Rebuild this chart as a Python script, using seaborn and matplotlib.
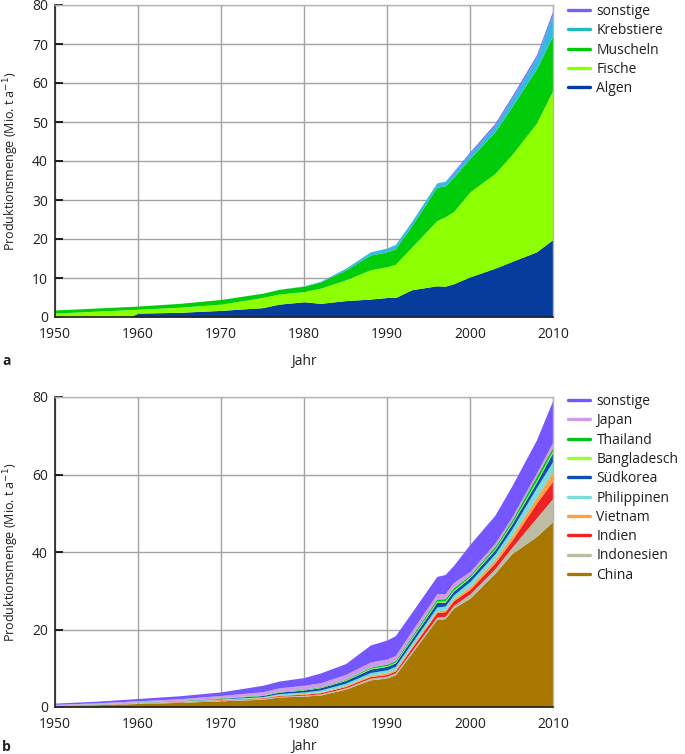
import matplotlib
matplotlib.use("Agg")
import matplotlib.pyplot as plt
from matplotlib.lines import Line2D
import seaborn as sns

sns.set_theme(style="whitegrid")
plt.rcParams["font.family"] = ["Open Sans", "DejaVu Sans"]

# --- panel a: Produktion nach Organismengruppe (Mio. t) ---
years_a = [1950, 1955, 1959, 1960, 1965, 1970, 1975, 1977, 1980, 1982, 1985, 1988,
           1990, 1991, 1993, 1996, 1997, 1998, 2000, 2003, 2005, 2008, 2010]
algen = [0, 0, 0, 1.0, 1.2, 1.7, 2.4, 3.3, 3.9, 3.5, 4.2, 4.6,
         5.0, 5.0, 7.0, 8.0, 7.9, 8.5, 10.3, 12.5, 14.2, 16.7, 19.9]
fische = [1.0, 1.5, 1.9, 1.0, 1.3, 1.6, 2.6, 2.6, 2.6, 3.9, 5.3, 7.5,
          7.9, 8.5, 11.0, 16.7, 17.8, 18.5, 21.8, 24.3, 27.3, 33.0, 38.3]
muscheln = [0.8, 0.8, 0.8, 0.8, 1.0, 1.2, 1.1, 1.2, 1.4, 1.6, 2.5, 3.8,
            3.8, 4.0, 5.5, 8.6, 7.9, 8.8, 8.6, 10.7, 12.3, 13.9, 14.1]
krebstiere = [0, 0, 0, 0, 0, 0, 0, 0, 0.1, 0.2, 0.5, 0.8,
              1.0, 1.1, 1.1, 1.1, 1.2, 1.2, 1.3, 1.7, 2.1, 3.0, 5.6]
sonstige_a = [0, 0, 0, 0, 0, 0, 0, 0, 0, 0, 0, 0,
              0, 0, 0, 0, 0, 0.3, 0.4, 0.5, 0.6, 0.6, 0.8]
labels_a = ["Algen", "Fische", "Muscheln", "Krebstiere", "sonstige"]
colors_a = ["#063d9c", "#8cff00", "#00cc0a", "#35b9dc", "#7b5cff"]
legend_colors_a = ["#063d9c", "#8cff00", "#00cc0a", "#1fb8c4", "#7b5cff"]

# --- panel b: Produktion nach Land (Mio. t) ---
years_b = [1950, 1955, 1960, 1965, 1970, 1975, 1977, 1980, 1982, 1985, 1988,
           1990, 1991, 1993, 1996, 1997, 1998, 2000, 2003, 2005, 2008, 2010]
china = [0.4, 0.6, 0.9, 1.2, 1.6, 2.0, 2.6, 2.8, 3.1, 4.6, 7.0,
         7.5, 8.3, 14.0, 22.6, 22.8, 25.5, 28.1, 34.5, 39.5, 44.0, 47.9]
indonesien = [0.05, 0.08, 0.1, 0.12, 0.15, 0.2, 0.2, 0.25, 0.3, 0.35, 0.45,
              0.5, 0.5, 0.55, 0.6, 0.6, 0.7, 1.1, 1.2, 1.6, 4.8, 6.0]
indien = [0.02, 0.03, 0.05, 0.08, 0.1, 0.15, 0.2, 0.25, 0.3, 0.35, 0.4,
          0.4, 0.5, 0.8, 1.2, 1.2, 1.2, 1.2, 1.5, 1.8, 3.8, 4.5]
vietnam = [0.02, 0.03, 0.05, 0.07, 0.1, 0.12, 0.15, 0.18, 0.2, 0.25, 0.35,
           0.4, 0.4, 0.4, 0.4, 0.45, 0.5, 0.7, 0.9, 1.2, 1.5, 2.5]
philippinen = [0.05, 0.06, 0.08, 0.1, 0.15, 0.2, 0.3, 0.4, 0.5, 0.6, 0.7,
               0.8, 0.8, 0.9, 1.0, 1.0, 1.0, 1.3, 1.4, 1.7, 2.5, 2.6]
suedkorea = [0.02, 0.03, 0.05, 0.08, 0.15, 0.3, 0.4, 0.5, 0.6, 0.7, 0.9,
             0.9, 0.9, 1.0, 1.2, 1.0, 1.0, 1.0, 1.1, 1.3, 1.4, 2.3]
bangladesch = [0.02, 0.03, 0.04, 0.05, 0.06, 0.08, 0.08, 0.1, 0.1, 0.15, 0.2,
               0.2, 0.2, 0.25, 0.3, 0.3, 0.3, 0.3, 0.3, 0.3, 0.4, 0.5]
thailand = [0.01, 0.02, 0.03, 0.05, 0.08, 0.1, 0.12, 0.15, 0.15, 0.2, 0.3,
            0.4, 0.4, 0.5, 0.6, 0.6, 0.6, 0.4, 0.6, 0.7, 1.2, 0.9]
japan = [0.1, 0.2, 0.3, 0.4, 0.6, 0.8, 0.9, 1.0, 1.0, 1.2, 1.3,
         1.3, 1.3, 1.3, 1.3, 1.3, 1.3, 0.9, 0.8, 0.8, 0.8, 1.3]
sonstige_b = [0.31, 0.42, 0.6, 0.75, 0.91, 1.65, 1.75, 1.97, 2.55, 2.8, 4.4,
              4.9, 5.1, 4.8, 4.5, 4.95, 4.4, 7.0, 7.2, 8.0, 8.5, 10.8]
labels_b = ["China", "Indonesien", "Indien", "Vietnam", "Philippinen",
            "Südkorea", "Bangladesch", "Thailand", "Japan", "sonstige"]
colors_b = ["#a87700", "#bdbda6", "#ee2222", "#ffa040", "#7adcdc",
            "#0b4fb0", "#9cff33", "#00c41a", "#cf9cec", "#7656ff"]

W, H = 685, 754
fig = plt.figure(figsize=(W / 100, H / 100), dpi=100)
ax1 = fig.add_axes([55 / W, 1 - 317 / H, 498 / W, 312 / H])
ax2 = fig.add_axes([55 / W, 1 - 707 / H, 498 / W, 310 / H])

ax1.stackplot(years_a, algen, fische, muscheln, krebstiere, sonstige_a,
              colors=colors_a, linewidth=0)
ax2.stackplot(years_b, china, indonesien, indien, vietnam, philippinen, suedkorea,
              bangladesch, thailand, japan, sonstige_b, colors=colors_b, linewidth=0)

txt = "#231f20"
for ax, yt, xpad in [(ax1, range(0, 81, 10), 9), (ax2, range(0, 81, 20), 5)]:
    ax.set_xlim(1950, 2010)
    ax.set_ylim(0, 80)
    ax.set_xticks(range(1950, 2011, 10))
    ax.set_yticks(list(yt))
    ax.set_facecolor("white")
    ax.grid(True, color="#a3a3a3", linewidth=1.0)
    ax.tick_params(axis="y", direction="in", length=6, width=1.2, color="black",
                   pad=5, labelsize=10, labelcolor=txt, left=True)
    ax.tick_params(axis="x", length=0, pad=7, labelsize=10, labelcolor=txt)
    for s in ["top", "right"]:
        ax.spines[s].set_color("#b5b5b5")
        ax.spines[s].set_linewidth(1.0)
    for s in ["left", "bottom"]:
        ax.spines[s].set_color("#222222")
        ax.spines[s].set_linewidth(1.2)
    ax.set_ylabel("Produktionsmenge (Mio. t a$^{-1}$)", fontsize=9, color=txt, labelpad=8)
    ax.set_xlabel("Jahr", fontsize=10, color=txt, labelpad=xpad)

def add_legend(ax, labels, colors, top_px):
    handles = [Line2D([], [], color=c, linewidth=2.4) for c in colors][::-1]
    ax.legend(handles, labels[::-1], loc="upper left",
              bbox_to_anchor=(568 / W, 1 - top_px / H), bbox_transform=fig.transFigure,
              frameon=False, borderpad=0, borderaxespad=0, fontsize=10,
              handlelength=1.6, handletextpad=0.45, labelspacing=0.31,
              labelcolor=txt)

add_legend(ax1, labels_a, legend_colors_a, 4)
add_legend(ax2, labels_b, colors_b, 394)

fig.text(2 / W, 1 - 365 / H, "a", fontsize=10, fontweight="bold", color=txt, va="baseline")
fig.text(2 / W, 1 - 751 / H, "b", fontsize=10, fontweight="bold", color=txt, va="baseline")

fig.savefig("out.png", dpi=100)
